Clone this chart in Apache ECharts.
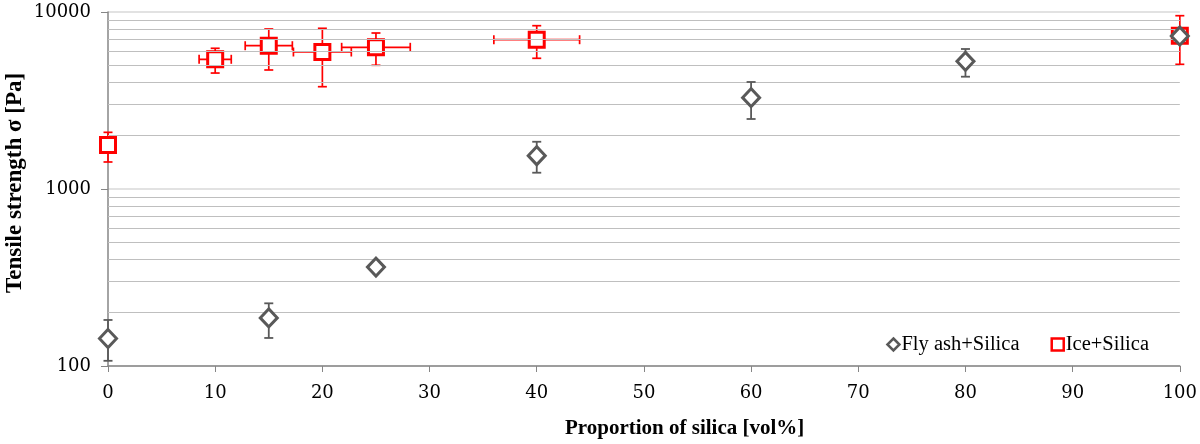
<!DOCTYPE html>
<html>
<head>
<meta charset="utf-8">
<script src="https://cdn.jsdelivr.net/npm/echarts@6/dist/echarts.min.js"></script>
<style>html,body{margin:0;padding:0;background:#fff;}#c{width:1200px;height:444px;}</style>
</head>
<body>
<div id="c"></div>
<script>
// ---- data ----
const xTicks = [0,10,20,30,40,50,60,70,80,90,100];
const yTickLabels = [100, 1000, 10000];
const minorGrid = [200,300,400,500,600,700,800,900,2000,3000,4000,5000,6000,7000,8000,9000];

const flyX    = [0, 15, 25, 40, 60, 80, 100];
const flyY    = [143, 187, 362, 1542, 3281, 5263, 7315];
const flyYLow = [107, 144, null, 1236, 2486, 4310, null];
const flyYHigh= [182, 226, null, 1849, 4024, 6180, null];

const iceX    = [0, 10, 15, 20, 25, 40, 100];
const iceY    = [1773, 5405, 6450, 5943, 6317, 6975, 7350];
const iceYLow = [1421, 4520, 4703, 3784, 5000, 5476, 5063];
const iceYHigh= [2090, 6237, 8017, 8089, 7609, 8368, 9530];
const iceXErr = [0, 1.5, 2.2, 2.7, 3.2, 4.0, 0];

const GRAY = '#595959', RED = '#ff0000';

const flyPts = flyX.map((x,i)=>[x, flyY[i]]);
const icePts = iceX.map((x,i)=>[x, iceY[i]]);
const flyYErr = flyX.map((x,i)=>[x, flyYLow[i], flyYHigh[i]]).filter(d=>d[1]!=null);
const iceYErrData = iceX.map((x,i)=>[x, iceYLow[i], iceYHigh[i]]);
const iceXErrData = iceX.map((x,i)=>[x-iceXErr[i], x+iceXErr[i], iceY[i]]).filter(d=>d[1]>d[0]);

function vErr(color, w){
  return function(params, api){
    const x = api.value(0), lo = api.value(1), hi = api.value(2);
    const a = api.coord([x, lo]), b = api.coord([x, hi]);
    const c = 4.5;
    const st = {stroke: color, lineWidth: w};
    return {type:'group', children:[
      {type:'line', shape:{x1:a[0],y1:a[1],x2:b[0],y2:b[1]}, style:st},
      {type:'line', shape:{x1:a[0]-c,y1:a[1],x2:a[0]+c,y2:a[1]}, style:st},
      {type:'line', shape:{x1:b[0]-c,y1:b[1],x2:b[0]+c,y2:b[1]}, style:st}
    ]};
  };
}
function hErr(color, w){
  return function(params, api){
    const x0 = api.value(0), x1 = api.value(1), y = api.value(2);
    const a = api.coord([x0, y]), b = api.coord([x1, y]);
    const c = 4.5;
    const st = {stroke: color, lineWidth: w};
    return {type:'group', children:[
      {type:'line', shape:{x1:a[0],y1:a[1],x2:b[0],y2:b[1]}, style:st},
      {type:'line', shape:{x1:a[0],y1:a[1]-c,x2:a[0],y2:a[1]+c}, style:st},
      {type:'line', shape:{x1:b[0],y1:b[1]-c,x2:b[0],y2:b[1]+c}, style:st}
    ]};
  };
}

const chart = echarts.init(document.getElementById('c'));
chart.setOption({
  animation: false,
  backgroundColor: '#fff',
  grid: {left: 108, right: 20, top: 12, bottom: 78},
  legend: {
    right: 46, top: 329,
    itemWidth: 12, itemHeight: 12, itemGap: 31,
    textStyle: {fontFamily: 'Liberation Serif', fontSize: 20.5, color: '#000', padding:[0,0,0,-3]},
    data: [
      {name: 'Fly ash+Silica', icon: 'diamond', itemStyle:{color:'#fff', borderColor: GRAY, borderWidth: 2.5}},
      {name: 'Ice+Silica', icon: 'rect', itemStyle:{color:'#fff', borderColor: RED, borderWidth: 2.5}}
    ]
  },
  xAxis: {
    type: 'value', min: 0, max: 100, interval: 10,
    axisLine: {show: true, lineStyle: {color: '#868686', width: 1.5}},
    axisTick: {show: true, length: 6, lineStyle: {color: '#868686'}},
    axisLabel: {fontFamily: 'DejaVu Serif', fontSize: 18, color: '#000', margin: 18,
      formatter: v => xTicks.includes(v) ? String(v) : ''},
    splitLine: {show: false}
  },
  yAxis: {
    type: 'log', logBase: 10, min: 100, max: 10000,
    axisLine: {show: true, lineStyle: {color: '#868686', width: 1.5}},
    axisTick: {show: true, length: 7, lineStyle: {color: '#868686'}},
    axisLabel: {fontFamily: 'DejaVu Serif', fontSize: 18, color: '#000', margin: 17,
      formatter: v => yTickLabels.includes(Math.round(v)) ? String(Math.round(v)) : ''},
    splitLine: {show: true, lineStyle: {color: '#d9d9d9', width: 1.5}}
  },
  graphic: [
    {type:'text', left: 565, top: 418, style:{text:'Proportion of silica [vol%]', font:'bold 21px "Liberation Serif"', fill:'#000'}},
    {type:'text', rotation: Math.PI/2, x: 4, y: 293, style:{text:'Tensile strength σ [Pa]', font:'bold 23px "Liberation Serif"', fill:'#000'}}
  ],
  series: [
    {
      type: 'custom', name: 'ice-yerr', renderItem: vErr(RED, 1.7), data: iceYErrData, z: 3, silent: true,
      encode: {x: 0, y: [1,2]},
      markLine: {
        silent: true, symbol: 'none', label: {show: false},
        lineStyle: {color: '#bfbfbf', width: 1.2, type: 'solid'},
        data: minorGrid.map(v => ({yAxis: v}))
      }
    },
    {type: 'custom', name: 'ice-xerr', renderItem: hErr(RED, 1.7), data: iceXErrData, z: 3, silent: true, encode: {x: [0,1], y: 2}},
    {
      type: 'scatter', name: 'Ice+Silica', data: icePts, symbol: 'rect', symbolSize: 15, z: 4,
      itemStyle: {color: '#fff', borderColor: RED, borderWidth: 3, opacity: 1}
    },
    {type: 'custom', name: 'fly-yerr', renderItem: vErr(GRAY, 1.8), data: flyYErr, z: 5, silent: true, encode: {x: 0, y: [1,2]}},
    {
      type: 'scatter', name: 'Fly ash+Silica', data: flyPts, symbol: 'diamond', symbolSize: [17, 18], z: 6,
      itemStyle: {color: '#fff', borderColor: GRAY, borderWidth: 3, opacity: 1}
    }
  ]
});
</script>
</body>
</html>
